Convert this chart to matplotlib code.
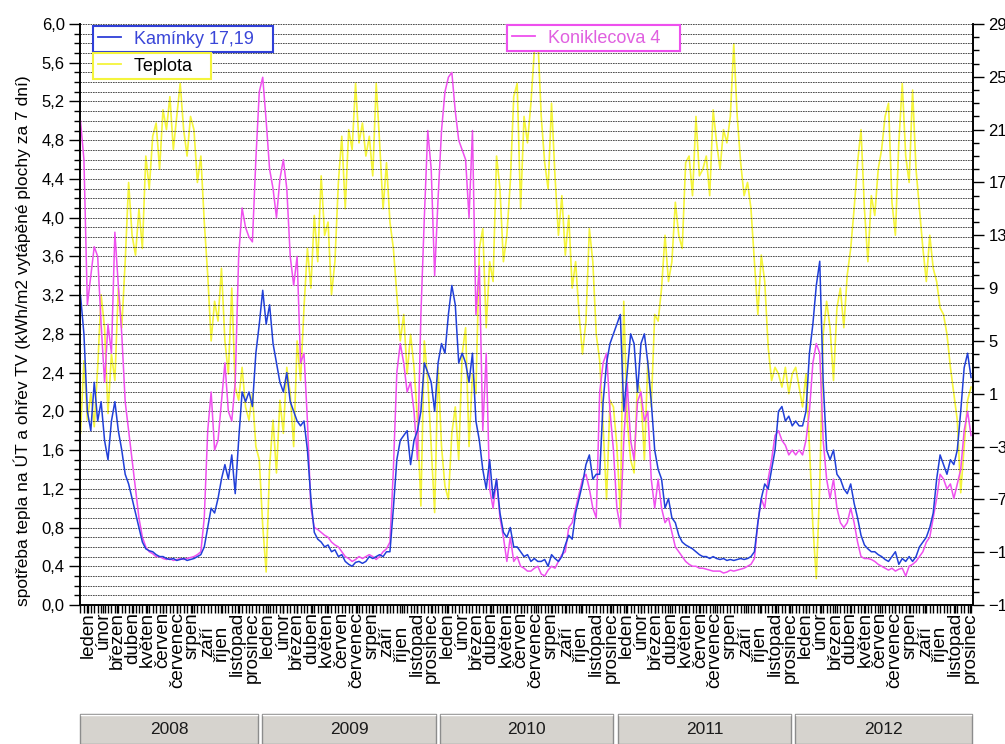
import matplotlib
matplotlib.use("Agg")
import matplotlib.pyplot as plt
import matplotlib.patches as mpatches
from matplotlib.lines import Line2D
from matplotlib.ticker import FuncFormatter, MultipleLocator, FixedLocator
import numpy as np
import pandas as pd

plt.rcParams["font.family"] = ["Liberation Sans", "DejaVu Sans"]

# weekly readings, first week starting 2007-12-17
start_date = "2007-12-17"

kaminky = [
    3.2, 2.8, 2.0, 1.8, 2.3, 1.9, 2.1, 1.7, 1.5, 1.9, 2.1, 1.8, 1.6,
    1.35, 1.25, 1.1, 0.95, 0.8, 0.65, 0.58, 0.56, 0.55, 0.52, 0.5, 0.5, 0.48,
    0.47, 0.48, 0.46, 0.47, 0.48, 0.46, 0.47, 0.48, 0.5, 0.52, 0.6, 0.8, 1.0,
    0.95, 1.1, 1.3, 1.45, 1.3, 1.55, 1.15, 1.7, 2.2, 2.1, 2.2, 2.05, 2.6,
    2.9, 3.25, 2.9, 3.1, 2.7, 2.5, 2.3, 2.2, 2.4, 2.1, 2.0, 1.9, 1.85,
    1.9, 1.6, 1.1, 0.75, 0.68, 0.65, 0.6, 0.62, 0.55, 0.57, 0.5, 0.52, 0.45,
    0.42, 0.4, 0.44, 0.45, 0.43, 0.45, 0.5, 0.48, 0.5, 0.52, 0.5, 0.55, 0.55,
    1.0, 1.5, 1.7, 1.75, 1.8, 1.45, 1.7, 1.8, 2.0, 2.5, 2.4, 2.3, 2.0,
    2.5, 2.7, 2.6, 3.0, 3.3, 3.1, 2.5, 2.6, 2.5, 2.3, 2.6, 1.9, 1.7,
    1.4, 1.2, 1.5, 1.1, 1.3, 0.95, 0.75, 0.7, 0.8, 0.6, 0.6, 0.55, 0.5,
    0.52, 0.45, 0.48, 0.45, 0.45, 0.47, 0.4, 0.52, 0.48, 0.45, 0.5, 0.62, 0.72,
    0.68, 0.95, 1.1, 1.25, 1.45, 1.55, 1.3, 1.35, 1.35, 2.1, 2.5, 2.7, 2.8,
    2.9, 3.0, 2.0, 2.4, 2.8, 2.7, 2.2, 2.7, 2.8, 2.5, 2.1, 1.6, 1.4,
    1.3, 1.0, 1.1, 0.9, 0.85, 0.72, 0.65, 0.62, 0.6, 0.58, 0.55, 0.52, 0.5,
    0.5, 0.48, 0.5, 0.48, 0.47, 0.48, 0.46, 0.47, 0.46, 0.47, 0.48, 0.47, 0.48,
    0.5, 0.55, 0.85, 1.1, 1.25, 1.2, 1.4, 1.6, 2.0, 2.05, 1.9, 1.95, 1.85,
    1.9, 1.85, 1.85, 2.0, 2.6, 2.9, 3.3, 3.55, 2.3, 1.6, 1.5, 1.6, 1.35,
    1.3, 1.2, 1.15, 1.25, 1.05, 0.9, 0.72, 0.62, 0.58, 0.55, 0.55, 0.52, 0.5,
    0.47, 0.45, 0.5, 0.55, 0.42, 0.48, 0.45, 0.5, 0.45, 0.5, 0.6, 0.65, 0.7,
    0.8, 0.95, 1.3, 1.55, 1.45, 1.35, 1.5, 1.45, 1.6, 2.0, 2.45, 2.6, 2.35,
]

koniklecova = [
    5.0, 4.6, 3.1, 3.4, 3.7, 3.6, 2.9, 2.3, 2.9, 2.6, 3.85, 3.3, 2.8,
    2.1, 1.8, 1.5, 1.2, 0.9, 0.7, 0.6, 0.55, 0.53, 0.5, 0.5, 0.48, 0.47,
    0.48, 0.46, 0.47, 0.48, 0.47, 0.48, 0.49, 0.5, 0.52, 0.55, 0.9, 1.8, 2.2,
    1.6, 1.7, 2.1, 2.5, 2.0, 1.9, 2.3, 3.6, 4.1, 3.9, 3.8, 3.75, 4.6,
    5.3, 5.45, 5.0, 4.5, 4.3, 4.0, 4.4, 4.6, 4.3, 3.6, 3.3, 3.6, 2.5,
    2.6, 1.9, 1.0, 0.8, 0.78, 0.75, 0.72, 0.7, 0.65, 0.62, 0.6, 0.55, 0.5,
    0.48, 0.45, 0.47, 0.5, 0.48, 0.5, 0.52, 0.5, 0.47, 0.5, 0.55, 0.58, 0.65,
    1.4, 2.4, 2.7, 2.5, 2.2, 2.3, 2.0, 1.5, 3.0, 4.0, 4.9, 4.5, 3.4,
    4.2, 4.9, 5.3, 5.45, 5.5, 5.1, 4.8, 4.7, 4.6, 4.0, 4.9, 3.0, 3.5,
    1.8, 2.6, 1.2, 1.0, 1.3, 0.9, 0.7, 0.45, 0.7, 0.45, 0.5, 0.4, 0.38,
    0.35, 0.35, 0.38, 0.4, 0.32, 0.3, 0.36, 0.4, 0.38, 0.45, 0.52, 0.55, 0.8,
    0.85, 1.0, 1.15, 1.3, 1.35, 1.2, 1.0, 0.9, 2.2, 2.5, 2.6, 2.0, 1.6,
    1.0, 0.8, 1.7, 2.3, 1.7, 1.5, 2.1, 2.2, 1.9, 2.0, 1.3, 1.0, 1.3,
    1.0, 0.85, 0.9, 0.75, 0.6, 0.55, 0.5, 0.45, 0.42, 0.4, 0.4, 0.38, 0.38,
    0.37, 0.36, 0.35, 0.35, 0.35, 0.33, 0.34, 0.36, 0.35, 0.36, 0.37, 0.38, 0.4,
    0.42, 0.48, 0.85, 1.1, 1.0, 1.3, 1.5, 1.75, 1.8, 1.7, 1.65, 1.55, 1.6,
    1.55, 1.6, 1.55, 1.7, 2.0, 2.5, 2.7, 2.6, 1.7, 1.3, 1.1, 1.3, 1.0,
    0.85, 0.8, 0.85, 1.0, 0.85, 0.65, 0.5, 0.48, 0.48, 0.47, 0.45, 0.42, 0.4,
    0.38, 0.36, 0.38, 0.35, 0.37, 0.38, 0.3, 0.4, 0.42, 0.45, 0.5, 0.55, 0.65,
    0.7, 0.9, 1.1, 1.35, 1.3, 1.2, 1.25, 1.1, 1.25, 1.4, 1.8, 2.0, 1.75,
]

teplota = [
    -2.0, 3.5, -1.0, 1.0, -1.5, 3.0, 8.5, 6.0, -0.5, 4.0, 2.0, 9.0, 6.0,
    11.0, 17.0, 13.0, 11.5, 15.0, 12.0, 19.0, 16.5, 20.5, 21.5, 18.0, 22.5, 21.0,
    23.5, 19.5, 22.0, 24.5, 21.0, 19.0, 22.0, 21.0, 17.0, 19.0, 14.0, 10.0, 5.0,
    8.0, 6.5, 10.5, 5.0, 2.5, 9.0, 1.5, 0.5, 3.0, 0.0, -1.0, 1.0, -3.0,
    -4.0, -9.0, -12.5, -4.5, -1.0, -5.0, 0.5, -2.0, 3.0, 1.0, -3.0, 5.0, 2.0,
    7.5, 12.0, 9.0, 14.5, 11.0, 17.5, 13.0, 14.0, 8.5, 11.0, 17.0, 20.5, 15.0,
    21.0, 19.5, 24.5, 20.0, 21.5, 19.0, 20.5, 17.5, 24.5, 20.0, 15.0, 18.5, 14.0,
    12.0, 8.5, 5.0, 7.0, 2.5, 5.5, 3.0, -1.0, -7.5, 5.0, 2.0, -3.0, -8.0,
    3.0, -3.0, -6.0, -7.0, -2.0, 0.0, -4.0, 4.0, 6.0, -3.0, 2.5, 1.0, 12.0,
    13.5, 6.0, 11.0, 9.5, 19.0, 16.5, 11.0, 13.0, 17.0, 23.5, 24.5, 15.0, 22.0,
    20.0, 23.0, 27.0, 28.0, 22.0, 18.5, 16.5, 23.0, 17.5, 13.0, 16.0, 11.5, 14.5,
    9.0, 11.0, 7.0, 4.0, 6.5, 13.5, 11.0, 5.5, 3.5, -1.5, -7.0, 0.5, 0.0,
    -3.0, -8.0, 8.0, -1.0, -4.0, -5.0, 2.0, 1.0, -4.0, 3.5, 0.0, 7.0, 6.5,
    9.0, 13.0, 9.5, 11.0, 15.5, 13.0, 12.0, 18.5, 19.0, 16.0, 22.0, 17.5, 18.0,
    19.0, 16.0, 22.5, 20.0, 18.0, 21.0, 20.0, 22.0, 27.5, 22.0, 18.5, 16.0, 17.0,
    15.0, 11.0, 7.0, 11.5, 9.5, 4.5, 2.0, 3.0, 2.5, 1.5, 3.0, 1.0, 2.5,
    3.0, 1.5, 0.0, 2.5, -3.0, -9.0, -13.0, -6.0, 5.5, 8.0, 6.0, 2.0, 7.5,
    9.0, 6.0, 10.0, 12.0, 15.0, 18.5, 21.0, 15.0, 11.0, 16.0, 14.5, 18.0, 19.5,
    22.0, 23.0, 15.5, 13.0, 20.0, 24.5, 19.0, 17.0, 24.0, 18.0, 15.0, 12.0, 9.5,
    13.0, 10.5, 9.5, 7.5, 7.0, 5.5, 3.0, 1.0, -1.0, -6.5, -3.0, 0.5, 1.5,
]

months = ["leden", "únor", "březen", "duben", "květen", "červen", "červenec",
          "srpen", "září", "říjen", "listopad", "prosinec"]
years = ["2008", "2009", "2010", "2011", "2012"]
temp_ticks = list(range(-15, 30, 4))

W, H = 1005, 744
fig = plt.figure(figsize=(W / 100, H / 100), dpi=100)
ax = fig.add_axes([80 / W, 1 - 605 / H, 893 / W, 581 / H])
ax2 = ax.twinx()
ax.set_zorder(2)
ax2.set_zorder(1)
ax.patch.set_visible(False)

dates = pd.date_range(start_date, periods=len(kaminky), freq="7D")

ax2.plot(dates, teplota, color="#f4f43c", lw=1.2)
ax.plot(dates, koniklecova, color="#ee50ee", lw=1.1)
ax.plot(dates, kaminky, color="#2140d8", lw=1.1)

ax.set_xlim(dates[0] - pd.Timedelta(days=1), dates[-1] + pd.Timedelta(days=4))
ax.set_ylim(0, 6)
ax2.set_ylim(-15, 29)

# left axis
ax.yaxis.set_major_locator(MultipleLocator(0.4))
ax.yaxis.set_minor_locator(MultipleLocator(0.1))
ax.yaxis.set_major_formatter(FuncFormatter(lambda v, p: f"{v:.1f}".replace(".", ",")))
ax.grid(axis="y", which="both", color="#333333", lw=0.6, ls=(0, (2, 1)))
ax.tick_params(axis="y", which="major", length=8, width=1, labelsize=12, pad=3)
ax.tick_params(axis="y", which="minor", length=4, width=1)

# right axis
ax2.yaxis.set_major_locator(FixedLocator(temp_ticks))
ax2.yaxis.set_minor_locator(MultipleLocator(1))
ax2.tick_params(axis="y", which="major", length=8, width=1, labelsize=12, pad=3)
ax2.tick_params(axis="y", which="minor", length=4, width=1)

# x axis: month ticks + weekly minor ticks
month_dates = pd.date_range("2008-01-01", "2012-12-01", freq="MS")
ax.set_xticks(month_dates)
ax.set_xticks(dates, minor=True)
ax.tick_params(axis="x", which="both", length=6, width=1, labelbottom=False)
xtrans = ax.get_xaxis_transform()
for d in month_dates:
    name = months[d.month - 1]
    ypos = -0.036 if name in ("září", "říjen") else -0.012
    ax.text(d, ypos, name, transform=xtrans, rotation=90, ha="center", va="top",
            fontsize=13.5, clip_on=False)

for a in (ax, ax2):
    a.spines["top"].set_visible(False)
    for s in ("left", "right", "bottom"):
        a.spines[s].set_linewidth(1.2)

fig.text(22 / W, 1 - 341 / H, "spotřeba tepla na ÚT a ohřev TV (kWh/m2 vytápěné plochy za 7 dní)",
         rotation=90, ha="center", va="center", fontsize=12.5)


# legends
def add_legend(label, color, textcolor, x, y):
    h = Line2D([], [], color=color, lw=1.3)
    leg = ax.legend([h], [label + "   "], loc="upper left", bbox_to_anchor=(x / W, 1 - y / H),
                    bbox_transform=fig.transFigure, fontsize=13, frameon=True,
                    fancybox=False, borderpad=0.25, borderaxespad=0, handlelength=1.3,
                    handletextpad=0.7, labelcolor=textcolor)
    fr = leg.get_frame()
    fr.set_edgecolor(color)
    fr.set_linewidth(1.5)
    fr.set_facecolor("white")
    fr.set_alpha(1)
    ax.add_artist(leg)


add_legend("Kamínky 17,19", "#2f3fd8", "#3a46d8", 93, 26)
add_legend("Teplota", "#f4f43c", "black", 93, 53)
add_legend("Koniklecova 4", "#ee50ee", "#e060e0", 507, 25)

# year buttons
button_spans = [(80, 258), (262, 436), (440, 613), (618, 791), (795, 972)]
for (x0, x1), yr in zip(button_spans, years):
    fig.add_artist(mpatches.Rectangle((x0 / W, 0), (x1 - x0) / W, 30 / H,
                                      transform=fig.transFigure, facecolor="#d6d3ce",
                                      edgecolor="#8c8c8c", lw=1.0))
    fig.add_artist(Line2D([x0 / W + 1 / W, x1 / W - 1 / W], [29 / H, 29 / H],
                          transform=fig.transFigure, color="white", lw=1))
    fig.text((x0 + x1) / 2 / W, 15 / H, yr, ha="center", va="center", fontsize=12.5,
             color="#1a1a1a")

fig.savefig("out.png", dpi=100)
